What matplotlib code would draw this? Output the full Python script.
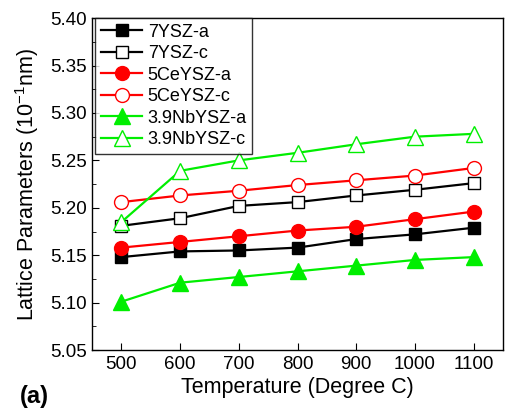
import numpy as np
import matplotlib
matplotlib.use("Agg")
import matplotlib.pyplot as plt
from matplotlib.ticker import MultipleLocator

plt.rcParams['font.family'] = ['Liberation Sans', 'DejaVu Sans']

# Lattice parameters vs annealing temperature
temperature = [500, 600, 700, 800, 900, 1000, 1100]
ysz7_a = [5.148, 5.154, 5.155, 5.158, 5.167, 5.172, 5.179]
ysz7_c = [5.181, 5.189, 5.202, 5.206, 5.213, 5.219, 5.226]
ceysz5_a = [5.158, 5.164, 5.170, 5.176, 5.180, 5.188, 5.196]
ceysz5_c = [5.206, 5.213, 5.218, 5.224, 5.229, 5.234, 5.242]
nbysz39_a = [5.101, 5.121, 5.127, 5.133, 5.139, 5.145, 5.148]
nbysz39_c = [5.185, 5.239, 5.250, 5.258, 5.267, 5.275, 5.278]

series = [
    ("7YSZ-a", ysz7_a, "black", "s", True, 8.5),
    ("7YSZ-c", ysz7_c, "black", "s", False, 8.5),
    ("5CeYSZ-a", ceysz5_a, "red", "o", True, 10),
    ("5CeYSZ-c", ceysz5_c, "red", "o", False, 10),
    ("3.9NbYSZ-a", nbysz39_a, "#00ee00", "^", True, 12),
    ("3.9NbYSZ-c", nbysz39_c, "#00ee00", "^", False, 12),
]

fig = plt.figure(figsize=(5.06, 4.13), dpi=100)
ax = fig.add_axes([0.182, 0.1525, 0.812, 0.8035])

for label, vals, col, mk, filled, ms in series:
    ax.plot(temperature, vals, color=col, marker=mk, markersize=ms, linewidth=1.6,
            markerfacecolor=col if filled else 'white', markeredgecolor=col,
            markeredgewidth=1.0, label=label)

ax.set_xlim(450, 1150)
ax.set_ylim(5.05, 5.40)
ax.set_xticks(temperature)
ax.yaxis.set_major_locator(MultipleLocator(0.05))
ax.yaxis.set_minor_locator(MultipleLocator(0.025))
ax.yaxis.set_major_formatter(matplotlib.ticker.FormatStrFormatter('%.2f'))
ax.tick_params(axis='both', which='both', direction='in', labelsize=13.5)
ax.tick_params(axis='both', which='major', length=5, pad=4)
ax.tick_params(axis='y', which='minor', length=3)
for s in ax.spines.values():
    s.set_linewidth(1.0)

ax.set_xlabel('Temperature (Degree C)', fontsize=15.5, labelpad=3)
ax.set_ylabel(r'Lattice Parameters (10$^{\mathregular{-1}}$nm)', fontsize=15.5, labelpad=6)

leg = ax.legend(loc='upper left', bbox_to_anchor=(0.008, 1.0), fontsize=13,
                frameon=True, fancybox=False, borderpad=0.3, labelspacing=0.25,
                handlelength=2.3, handletextpad=0.3, borderaxespad=0.0)
leg.get_frame().set_edgecolor('black')
leg.get_frame().set_linewidth(1.0)

fig.text(0.04, 0.025, '(a)', fontsize=17, fontweight='bold')

fig.savefig('out.png', dpi=100)
